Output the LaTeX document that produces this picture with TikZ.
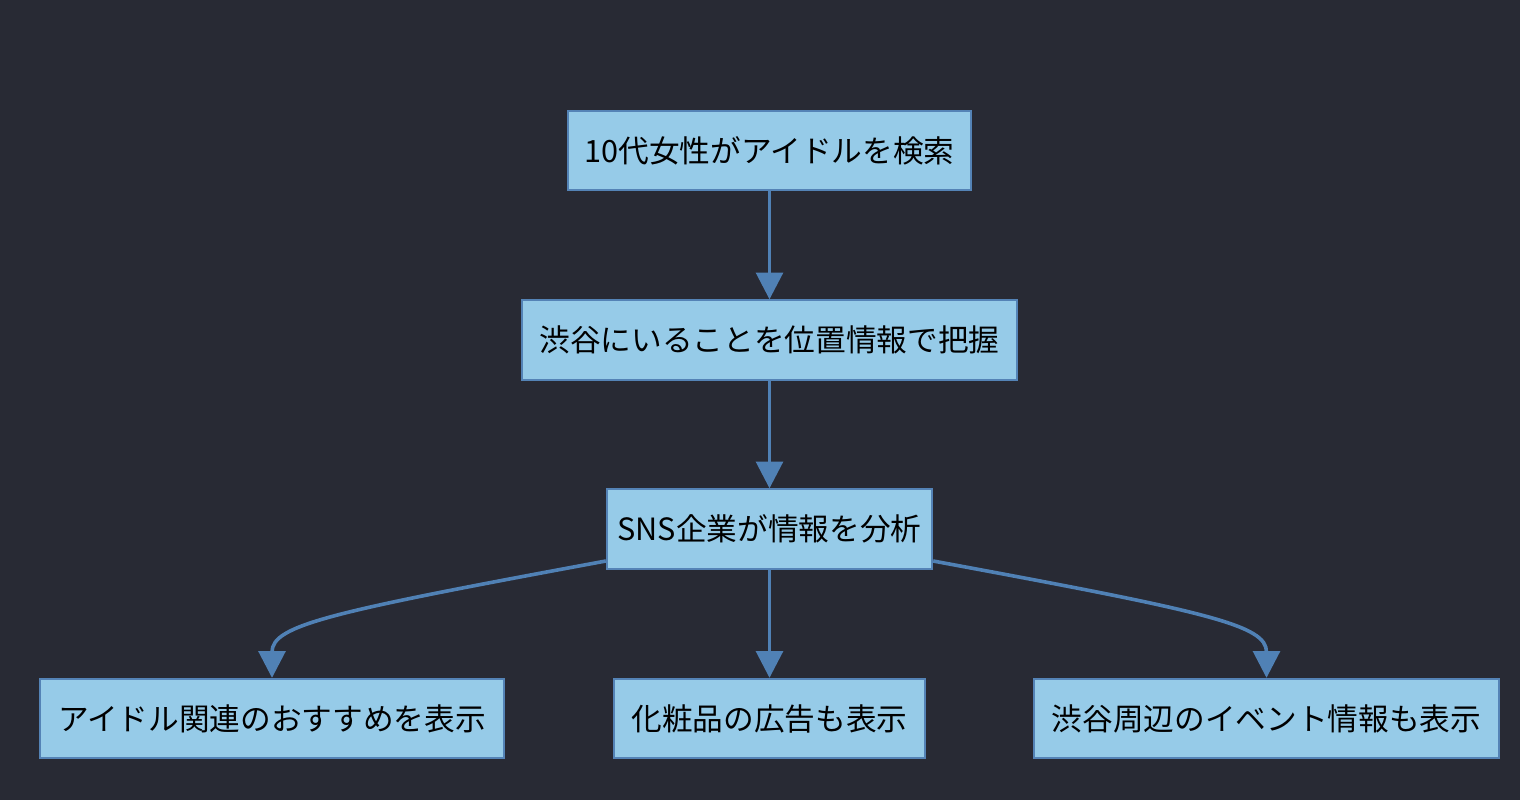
\documentclass[tikz,border=0pt]{standalone}
\usepackage{fontspec}
\setmainfont{Noto Sans CJK JP}
\usetikzlibrary{arrows.meta}
\definecolor{bg}{HTML}{282A34}
\definecolor{boxfill}{HTML}{96CBE8}
\definecolor{boxline}{HTML}{5483B6}
\definecolor{edge}{HTML}{5081B5}
\begin{document}
\begin{tikzpicture}[x=0.75pt,y=-0.75pt,
  box/.style={draw=boxline,fill=boxfill,line width=1.5pt,minimum height=59.5pt,inner sep=0pt,
    font=\fontsize{23}{27}\selectfont,text=black},
  conn/.style={draw=edge,line width=2.7pt,-{Triangle[width=20pt,length=20pt]}}]
\fill[bg] (0,0) rectangle (1520,800);
\useasboundingbox (0,0) rectangle (1520,800);
\node[box,minimum width=302pt] (a) at (769.5,150.5) {10代女性がアイドルを検索};
\node[box,minimum width=371pt] (b) at (769.5,340) {渋谷にいることを位置情報で把握};
\node[box,minimum width=244pt] (c) at (769.5,529) {SNS企業が情報を分析};
\node[box,minimum width=348pt] (d) at (272,718.5) {アイドル関連のおすすめを表示};
\node[box,minimum width=233pt] (e) at (769.5,718.5) {化粧品の広告も表示};
\node[box,minimum width=349pt] (f) at (1266.5,718.5) {渋谷周辺のイベント情報も表示};
\draw[conn] (a) -- (b);
\draw[conn] (b) -- (c);
\draw[conn] (c) -- (e);
\draw[conn] (c.west |- 0,561) .. controls (330,612) and (272,625) .. (d.north);
\draw[conn] (c.east |- 0,561) .. controls (1209,612) and (1266.5,625) .. (f.north);
\end{tikzpicture}
\end{document}
